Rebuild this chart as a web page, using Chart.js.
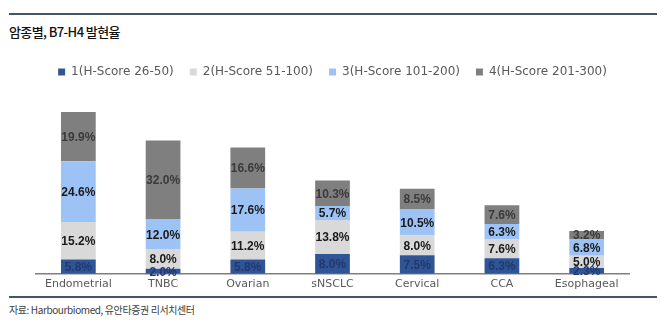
<!DOCTYPE html>
<html>
<head>
<meta charset="utf-8">
<script src="https://cdn.jsdelivr.net/npm/chart.js@4"></script>
<style>
  body { margin: 0; background: #fff; width: 666px; height: 332px; position: relative; overflow: hidden; }
  .rule { position: absolute; left: 9px; width: 648px; height: 0; border-top: 2px solid #44546a; }
  #title { position: absolute; left: 9px; top: 22px; font: 500 13px "Noto Sans CJK KR", sans-serif; letter-spacing: -0.6px; color: #111; }
  #source { position: absolute; left: 9px; top: 302px; font: 10px "Noto Sans CJK KR", sans-serif; letter-spacing: -0.4px; color: #404040; }
  #wrap { position: absolute; left: 0; top: 40px; width: 666px; height: 255px; }
</style>
</head>
<body>
<div class="rule" style="top:13px"></div>
<div id="title">암종별, B7-H4 발현율</div>
<div id="wrap"><canvas id="chart"></canvas></div>
<div class="rule" style="top:296px"></div>
<div id="source">자료: Harbourbiomed, 유안타증권 리서치센터</div>

<script>
const cancerTypes = ["Endometrial", "TNBC", "Ovarian", "sNSCLC", "Cervical", "CCA", "Esophageal"];
const seriesNames = ["1(H-Score 26-50)", "2(H-Score 51-100)", "3(H-Score 101-200)", "4(H-Score 201-300)"];
const score1 = [5.8, 2.0, 5.8, 8.0, 7.5, 6.3, 2.3];
const score2 = [15.2, 8.0, 11.2, 13.8, 8.0, 7.6, 5.0];
const score3 = [24.6, 12.0, 17.6, 5.7, 10.5, 6.3, 6.8];
const score4 = [19.9, 32.0, 16.6, 10.3, 8.5, 7.6, 3.2];

const fills = ["#2f5597", "#d9d9d9", "#9dc3f6", "#7f7f7f"];
const labelColors = ["#22386e", "#1a1a1a", "#1a1a1a", "#3a3a3a"];

// percentage text in the middle of every stacked segment
const segmentLabels = {
  id: "segmentLabels",
  afterDatasetsDraw(chart) {
    const ctx = chart.ctx;
    ctx.save();
    ctx.font = "bold 12px 'Liberation Sans', Arial, sans-serif";
    ctx.textAlign = "center";
    ctx.textBaseline = "middle";
    chart.data.datasets.forEach((ds, di) => {
      const meta = chart.getDatasetMeta(di);
      meta.data.forEach((bar, i) => {
        ctx.fillStyle = labelColors[di];
        ctx.fillText(ds.data[i].toFixed(1) + "%", bar.x, (bar.y + bar.base) / 2 + 1);
      });
    });
    ctx.restore();
  }
};

// extra room under the legend row
const legendGap = {
  id: "legendGap",
  beforeInit(chart) {
    const fit = chart.legend.fit;
    chart.legend.fit = function () {
      fit.bind(chart.legend)();
      this.height += 13;
    };
  }
};

new Chart(document.getElementById("chart"), {
  type: "bar",
  data: {
    labels: cancerTypes,
    datasets: [score1, score2, score3, score4].map((d, i) => ({
      label: seriesNames[i],
      data: d,
      backgroundColor: fills[i],
      barPercentage: 0.41,
      categoryPercentage: 1
    }))
  },
  options: {
    responsive: true,
    maintainAspectRatio: false,
    animation: false,
    layout: { padding: { left: 36, right: 37, top: 10, bottom: 0 } },
    plugins: {
      tooltip: { enabled: false },
      legend: {
        position: "top",
        labels: {
          boxWidth: 7,
          boxHeight: 7,
          padding: 16,
          color: "#595959",
          font: { family: "'DejaVu Sans', sans-serif", size: 12 }
        }
      }
    },
    scales: {
      x: {
        stacked: true,
        grid: { display: false, drawTicks: false },
        border: { display: true, color: "#7f7f7f", width: 1.5 },
        ticks: { color: "#595959", padding: 4, font: { family: "'DejaVu Sans', sans-serif", size: 11 } }
      },
      y: {
        stacked: true,
        display: false,
        min: 0,
        max: 70
      }
    }
  },
  plugins: [segmentLabels, legendGap]
});
</script>
</body>
</html>
